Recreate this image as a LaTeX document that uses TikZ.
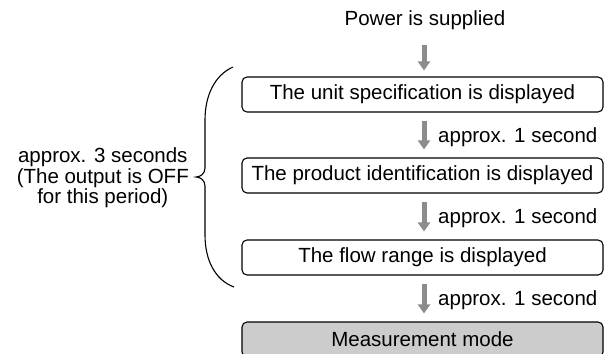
\documentclass[tikz,border=0pt]{standalone}
\usepackage{fontspec}
\setmainfont{Liberation Sans}
\usetikzlibrary{arrows.meta,calc}
\definecolor{arrowgray}{gray}{0.55}
\definecolor{modegray}{gray}{0.8}
\begin{document}
\begin{tikzpicture}[x=1pt,y=-1pt,
  txt/.style={font=\fontsize{20.5}{20.5}\selectfont,inner sep=0pt},
  box/.style={txt,draw=black,line width=1.1pt,rounded corners=5pt,minimum width=361pt,minimum height=35pt},
  lbl/.style={txt,anchor=west},
  blk/.style={draw=arrowgray,line width=5pt,-{Triangle[width=12pt,length=9pt]}},
  brace/.style={draw=black,line width=1.1pt}
]
\useasboundingbox (0,0) rectangle (604,353);
\clip (0,0) rectangle (604,353);

\node[txt] (power) at (425,20) {Power is supplied};
\node[box] (b1) at (422.5,94.5) {The unit specification is displayed};
\node[box] (b2) at (422.5,175.5) {The product identification is displayed};
\node[box] (b3) at (422.5,257.5) {The flow range is displayed};
\node[box,fill=modegray] (b4) at (422.5,339.5) {Measurement mode};

\coordinate (a1s) at (424,45);
\draw[blk] (a1s) -- ([xshift=1.5pt,yshift=6pt]b1.north);
\draw[blk] ([xshift=1.5pt,yshift=-8pt]b1.south) -- coordinate[pos=0.5] (m1) ([xshift=1.5pt,yshift=8pt]b2.north);
\draw[blk] ([xshift=1.5pt,yshift=-8pt]b2.south) -- coordinate[pos=0.5] (m2) ([xshift=1.5pt,yshift=8pt]b3.north);
\draw[blk] ([xshift=1.5pt,yshift=-8pt]b3.south) -- coordinate[pos=0.5] (m3) ([xshift=1.5pt,yshift=8pt]b4.north);

\node[lbl] (l1) at ([xshift=14pt,yshift=-2pt]m1) {approx. 1 second};
\node[lbl] (l2) at ([xshift=14pt,yshift=-2pt]m2) {approx. 1 second};
\node[lbl] (l3) at ([xshift=14pt,yshift=-2pt]m3) {approx. 1 second};

\coordinate (bt) at (233,67);
\coordinate (tip) at (196,177);
\coordinate (bb) at (234,287);
\draw[brace] (bt) .. controls (215,75) and (205,95) .. (205,120) -- (205,168)
  .. controls (205,174) and (200,177) .. (tip)
  .. controls (200,177) and (205,180) .. (205,186) -- (205,235)
  .. controls (205,260) and (215,280) .. (bb);

\node[txt,align=center,anchor=east] (period) at (189,178)
  {approx. 3 seconds\\(The output is OFF\\for this period)};
\end{tikzpicture}
\end{document}
